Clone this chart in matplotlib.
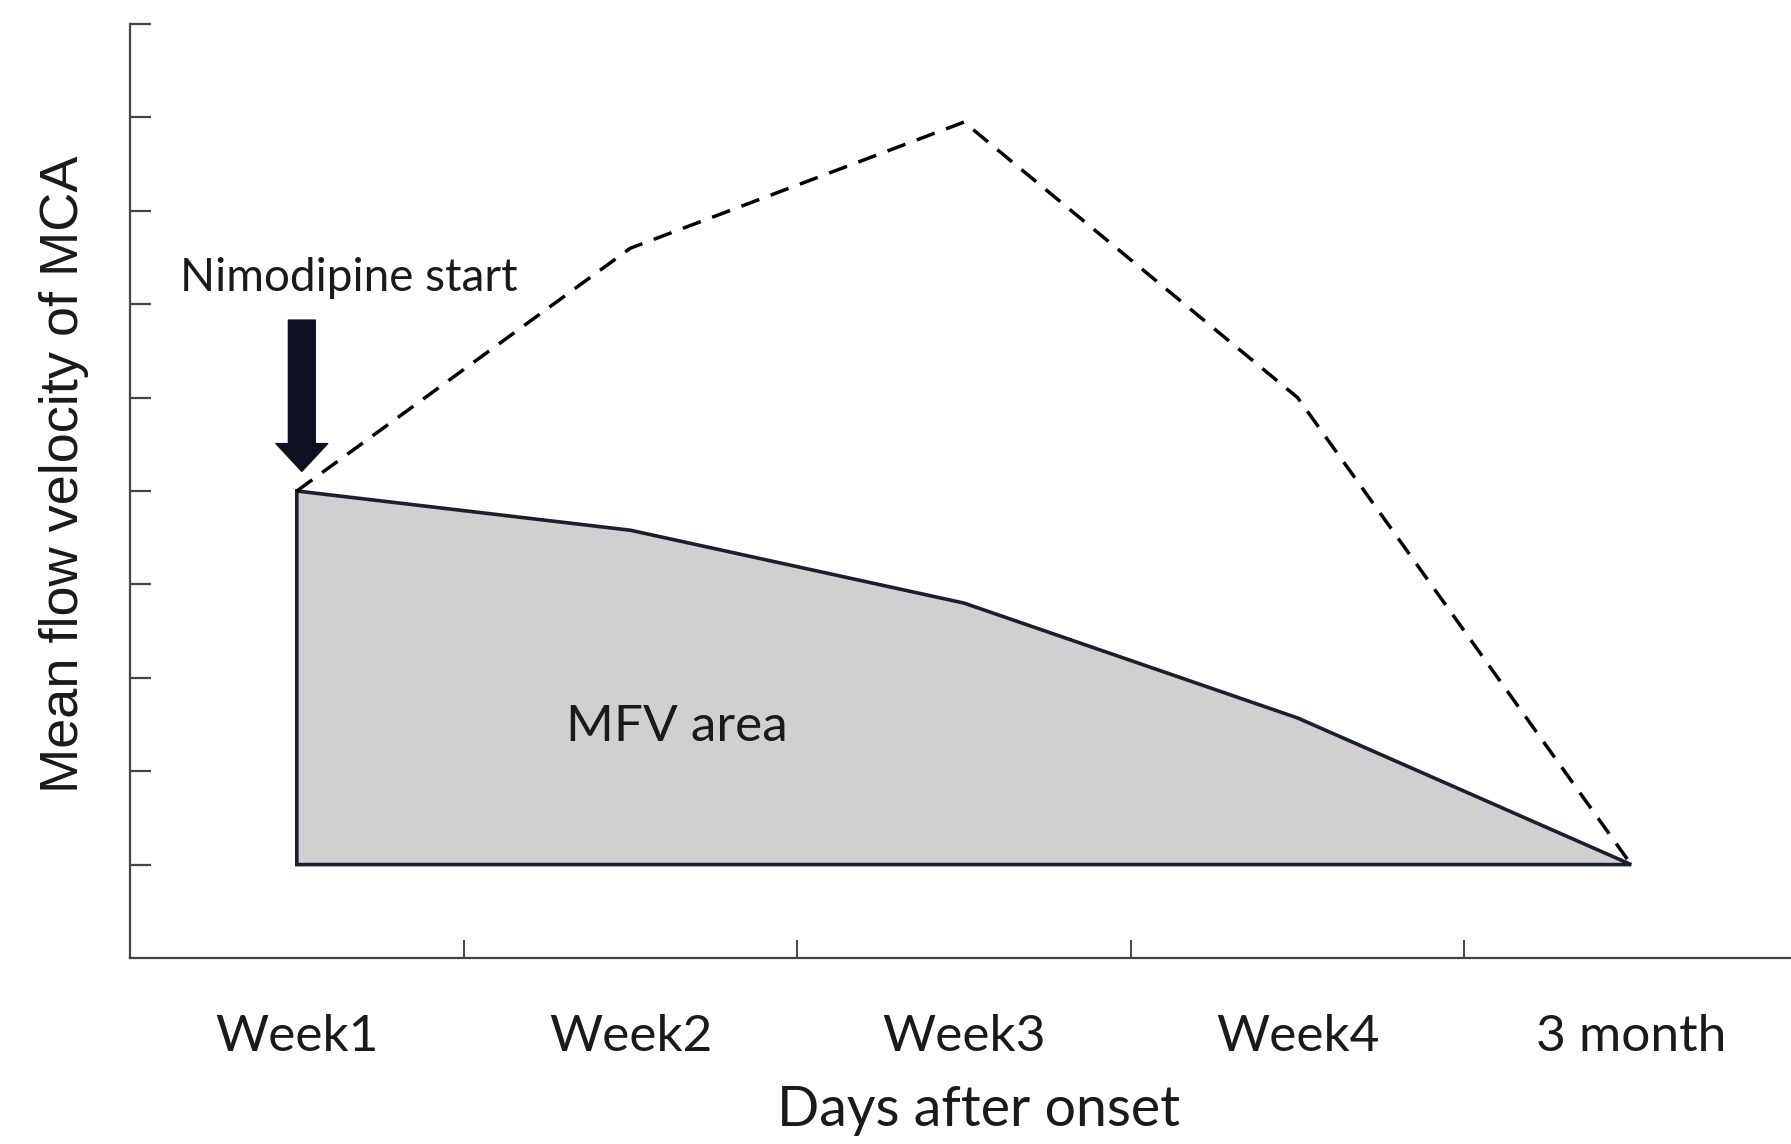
import matplotlib.pyplot as plt

# categories on the x axis
periods = ["Week1", "Week2", "Week3", "Week4", "3 month"]
# upper (dashed) curve and the MFV area outline, in y-tick units
dashed_mfv = [5.0, 7.6, 8.95, 6.0, 1.0]
area_top = [5.0, 4.58, 3.8, 2.57, 1.0]
area_base = [1.0, 1.0, 1.0, 1.0, 1.0]
y_ticks = [1, 2, 3, 4, 5, 6, 7, 8, 9, 10]
x_minor = [0.5, 1.5, 2.5, 3.5]

fig = plt.figure(figsize=(17.91, 11.44), dpi=100)
ax = fig.add_axes([0.0726, 0.1626, 0.9313, 0.8164])

x = list(range(len(periods)))

# MFV area: filled polygon with dark outline
poly_x = x + x[::-1]
poly_y = area_top + area_base[::-1]
ax.fill(poly_x, poly_y, facecolor="#d0cfd2", edgecolor="#1a1f2e", linewidth=2.6, zorder=2)

# dashed upper curve
ax.plot(x, dashed_mfv, color="black", linestyle=(0, (5.5, 3.5)), linewidth=2.5, zorder=3)

# Nimodipine start arrow
ax.annotate("", xy=(0.015, 5.21), xytext=(0.015, 6.83),
            arrowprops=dict(arrowstyle="simple,head_length=0.58,head_width=1.08,tail_width=0.56",
                            mutation_scale=34.5, color="#0d1020", shrinkA=0, shrinkB=0),
            zorder=4)
ax.text(0.156, 7.14, "Nimodipine start", family="Lato", fontsize=33,
        ha="center", va="baseline", color="#1a1a1a")
ax.text(1.14, 2.47, "MFV area", family="Lato", fontsize=37,
        ha="center", va="center", color="#1a1a1a")

# axes styling
ax.set_xlim(-0.5, 4.5)
ax.set_ylim(0, 10)
for side in ["top", "right"]:
    ax.spines[side].set_visible(False)
for side in ["left", "bottom"]:
    ax.spines[side].set_color("#444444")
    ax.spines[side].set_linewidth(1.6)

ax.set_yticks(y_ticks)
ax.set_yticklabels([])
ax.tick_params(axis="y", direction="in", length=15, width=1.6, color="#444444")

ax.set_xticks(x)
ax.set_xticklabels(periods, family="Lato", fontsize=37, color="#1a1a1a")
ax.set_xticks(x_minor, minor=True)
ax.tick_params(axis="x", which="major", length=0, pad=40)
ax.tick_params(axis="x", which="minor", direction="in", length=13, width=1.4, color="#444444")

ax.set_xlabel("Days after onset", family="Lato", fontsize=40, color="#1a1a1a", labelpad=20)
ax.xaxis.set_label_coords(0.509, -0.163)
ax.xaxis.label.set_va("center")
ax.set_ylabel("Mean flow velocity of MCA", family="Liberation Sans", fontsize=39,
              color="#1a1a1a")
ax.yaxis.label.set_va("center")
ax.yaxis.set_label_coords(-0.0396, 0.518)

fig.savefig("out.png", dpi=100)
